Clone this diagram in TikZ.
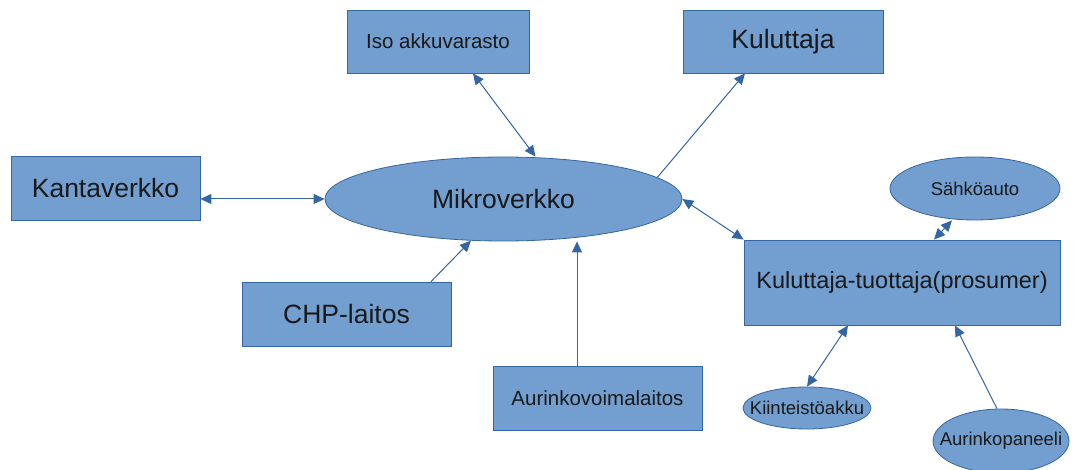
\documentclass[tikz,border=0pt]{standalone}
\usepackage{fontspec}
\setmainfont{Liberation Sans}
\usetikzlibrary{shapes.geometric,arrows.meta}
\definecolor{lofill}{HTML}{729FCF}
\definecolor{loline}{HTML}{3465A4}
\tikzset{
  box/.style={draw=loline, fill=lofill, line width=0.8pt, rectangle, inner sep=0pt, text=black!90},
  oval/.style={draw=loline, fill=lofill, line width=0.8pt, ellipse, inner sep=0pt, text=black!90},
  link/.style={loline, line width=1pt, {Triangle[length=11pt,width=10pt]}-{Triangle[length=11pt,width=10pt]}},
  tolink/.style={loline, line width=1pt, -{Triangle[length=11pt,width=10pt]}},
  big/.style={font=\fontsize{26.5}{31}\selectfont},
  mid/.style={font=\fontsize{20.5}{25}\selectfont},
  small/.style={font=\fontsize{18.5}{22}\selectfont}
}
\begin{document}
\begin{tikzpicture}[x=1pt, y=-1pt]
        \useasboundingbox (0,0) rectangle (1082,470);
        % Mikroverkko and what feeds it
        \node[oval, big, minimum width=357pt, minimum height=84pt] (mikro) at (503.5,199) {Mikroverkko};
        \node[box, mid, minimum width=182pt, minimum height=63pt] (iso) at (438,41.5) {Iso akkuvarasto};
        \node[box, big, minimum width=200pt, minimum height=63pt] (kuluttaja) at (783,41.5) {Kuluttaja};
        \node[box, big, minimum width=189pt, minimum height=64pt] (kanta) at (105.5,188) {Kantaverkko};
        \node[box, big, minimum width=209pt, minimum height=64pt] (chp) at (346.5,314) {CHP-laitos};
        \node[box, mid, minimum width=209pt, minimum height=64pt] (voima) at (597.5,398) {Aurinkovoimalaitos};
        
        % Prosumer side
        \node[box, font=\fontsize{23.5}{28}\selectfont, minimum width=316pt, minimum height=85pt] (prosumer) at (902,282.5) {Kuluttaja-tuottaja(prosumer)};
        \node[oval, small, minimum width=170pt, minimum height=63pt] (auto) at (975,188.5) {Sähköauto};
        \node[oval, small, minimum width=128pt, minimum height=42pt] (akku) at (807,408) {\makebox[0pt]{Kiinteistöakku}};
        \node[oval, small, minimum width=136pt, minimum height=64pt] (paneeli) at (1001,441) {\makebox[0pt]{Aurinkopaneeli}};
        
        \draw[link] ([xshift=35pt]iso.south) -- ([xshift=32pt]mikro.north);
        \draw[tolink] (mikro.8) -- ([xshift=-38pt]kuluttaja.south);
        \draw[link] (kanta.east |- mikro.west) -- (mikro.west);
        \draw[tolink] ([xshift=84.5pt]chp.north) -- (mikro.232.5);
        \draw[tolink] ([xshift=-20.5pt]voima.north) -- ([xshift=-20.5pt]voima.north |- mikro.south);
        \draw[link] (mikro.east) -- (prosumer.north west);
        
        \draw[link] ([xshift=32pt]prosumer.north) -- ([xshift=-23pt]auto.south);
        \draw[link] ([xshift=-54pt]prosumer.south) -- (akku.north);
        \draw[tolink] ([xshift=-4pt]paneeli.north) -- ([xshift=53pt]prosumer.south);
    \end{tikzpicture}
\end{document}
